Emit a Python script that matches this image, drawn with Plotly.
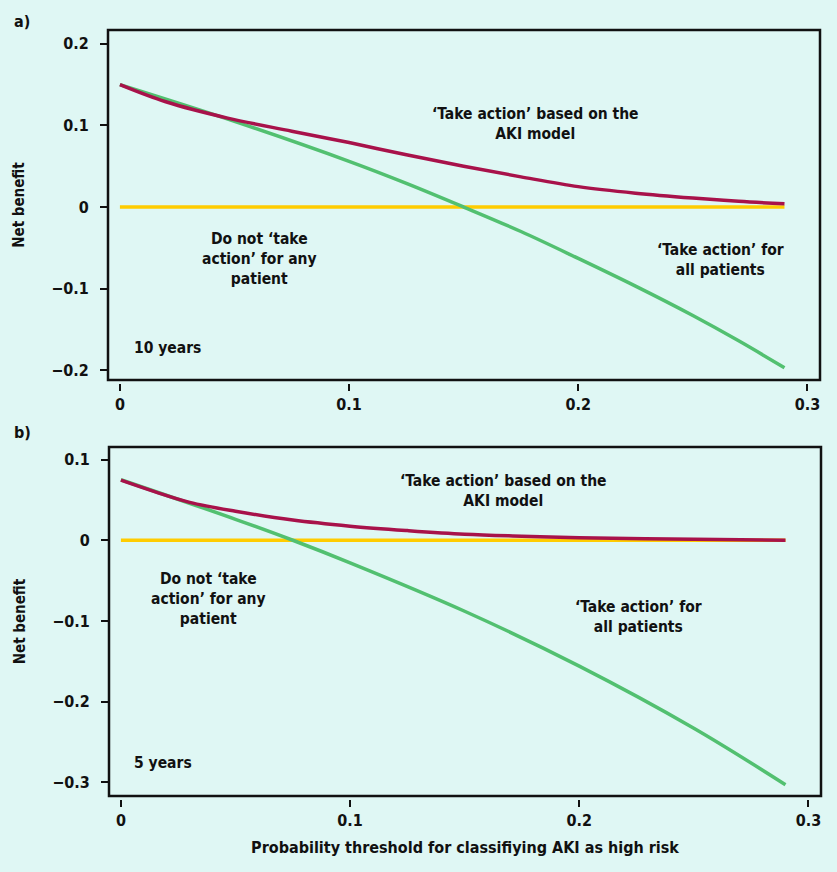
import plotly.graph_objects as go

# ---- data ----
# Panel a) 10 years
t_all_a = [0, 0.05, 0.1, 0.125, 0.15, 0.175, 0.2, 0.225, 0.25, 0.27, 0.29]
nb_all_a = [0.150, 0.105, 0.056, 0.029, 0.000, -0.030, -0.063, -0.097, -0.133, -0.164, -0.197]
t_model_a = [0, 0.02, 0.047, 0.075, 0.1, 0.125, 0.15, 0.175, 0.2, 0.225, 0.25, 0.27, 0.29]
nb_model_a = [0.150, 0.129, 0.109, 0.093, 0.079, 0.064, 0.050, 0.037, 0.025, 0.017, 0.011, 0.007, 0.004]

# Panel b) 5 years
t_all_b = [0, 0.05, 0.075, 0.1, 0.15, 0.2, 0.25, 0.29]
nb_all_b = [0.075, 0.026, 0.000, -0.028, -0.088, -0.156, -0.233, -0.303]
t_model_b = [0, 0.015, 0.03, 0.05, 0.075, 0.1, 0.125, 0.15, 0.175, 0.2, 0.25, 0.29]
nb_model_b = [0.0745, 0.060, 0.047, 0.036, 0.025, 0.0175, 0.012, 0.0075, 0.005, 0.003, 0.0012, 0.0]

t_none = [0, 0.29]
nb_none = [0, 0]

x_ticks = [0, 0.1, 0.2, 0.3]
x_ticklabels = ["0", "0.1", "0.2", "0.3"]
y_ticks_a = [-0.2, -0.1, 0, 0.1, 0.2]
y_ticklabels_a = ["\u22120.2", "\u22120.1", "0", "0.1", "0.2"]
y_ticks_b = [-0.3, -0.2, -0.1, 0, 0.1]
y_ticklabels_b = ["\u22120.3", "\u22120.2", "\u22120.1", "0", "0.1"]

RED = "#a8124a"
GREEN = "#52c070"
YELLOW = "#ffcc00"
BG = "#dff7f4"
FONT = "Liberation Sans Narrow, DejaVu Sans Condensed, Arial Narrow, sans-serif"

W, H = 837, 872

fig = go.Figure()

def add_panel(xa, ya, t_all, nb_all, t_model, nb_model):
    fig.add_trace(go.Scatter(x=t_none, y=nb_none, mode="lines", xaxis=xa, yaxis=ya,
                             line=dict(color=YELLOW, width=3.5), hoverinfo="skip", showlegend=False))
    fig.add_trace(go.Scatter(x=t_all, y=nb_all, mode="lines", xaxis=xa, yaxis=ya,
                             line=dict(color=GREEN, width=3.5, shape="spline"), hoverinfo="skip", showlegend=False))
    fig.add_trace(go.Scatter(x=t_model, y=nb_model, mode="lines", xaxis=xa, yaxis=ya,
                             line=dict(color=RED, width=3.5, shape="spline"), hoverinfo="skip", showlegend=False))

add_panel("x", "y", t_all_a, nb_all_a, t_model_a, nb_model_a)
add_panel("x2", "y2", t_all_b, nb_all_b, t_model_b, nb_model_b)

# domains from pixel boxes
def xd(x0, x1):
    return [x0 / W, x1 / W]

def yd(top, bottom):
    return [1 - bottom / H, 1 - top / H]

dom_xa = xd(108, 820)
dom_ya = yd(30, 380)
dom_xb = xd(109, 821)
dom_yb = yd(447, 796)

tickfont = dict(family=FONT, size=16, color="#111111", weight="bold")

common_x = dict(tickmode="array", tickvals=x_ticks, ticktext=x_ticklabels,
                ticks="outside", ticklen=7, tickwidth=2, tickcolor="#111",
                showgrid=False, zeroline=False, showline=False,
                tickfont=tickfont, range=[-0.0052, 0.3055], anchor="free")
common_y = dict(ticks="outside", ticklen=7, tickwidth=2, tickcolor="#111",
                showgrid=False, zeroline=False, showline=False, tickfont=tickfont,
                ticklabelstandoff=8,
                title=dict(text="Net benefit", font=dict(family=FONT, size=15, color="#111", weight="bold"), standoff=22))

fig.update_layout(
    width=W, height=H,
    margin=dict(l=0, r=0, t=0, b=0),
    paper_bgcolor=BG, plot_bgcolor=BG,
    font=dict(family=FONT, color="#111"),
    xaxis=dict(domain=dom_xa, position=dom_ya[0] - 3 / H, **common_x),
    yaxis=dict(domain=dom_ya, range=[-0.212, 0.217], tickmode="array",
               tickvals=y_ticks_a, ticktext=y_ticklabels_a, anchor="x", **common_y),
    xaxis2=dict(domain=dom_xb, position=dom_yb[0] - 3 / H,
                title=dict(text="Probability threshold for classifiying AKI as high risk",
                           font=dict(family=FONT, size=16, color="#111", weight="bold"), standoff=12),
                **common_x),
    yaxis2=dict(domain=dom_yb, range=[-0.317, 0.1156], tickmode="array",
                tickvals=y_ticks_b, ticktext=y_ticklabels_b, anchor="x2", **common_y),
)

# boxes
for xr, yr in (("x domain", "y domain"), ("x2 domain", "y2 domain")):
    fig.add_shape(type="rect", xref=xr, yref=yr, x0=0, x1=1, y0=0, y1=1,
                  line=dict(color="#111", width=2.5), fillcolor="rgba(0,0,0,0)", layer="above")

afont = dict(family=FONT, size=15.5, color="#111", weight="bold")
ann = [
    ("x", "y", 0.1814, 0.1018, "\u2018Take action\u2019 based on the<br>AKI model"),
    ("x", "y", 0.061, -0.0638, "Do not \u2018take<br>action\u2019 for any<br>patient"),
    ("x", "y", 0.2621, -0.065, "\u2018Take action\u2019 for<br>all patients"),
    ("x2", "y2", 0.1668, 0.0607, "\u2018Take action\u2019 based on the<br>AKI model"),
    ("x2", "y2", 0.0380, -0.0731, "Do not \u2018take<br>action\u2019 for any<br>patient"),
    ("x2", "y2", 0.226, -0.0954, "\u2018Take action\u2019 for<br>all patients"),
]
for xr, yr, x, y, txt in ann:
    fig.add_annotation(xref=xr, yref=yr, x=x, y=y, text=txt, showarrow=False,
                       font=afont, align="center", xanchor="center", yanchor="middle")

fig.add_annotation(xref="x", yref="y", x=0.0052, y=-0.173, text="10 years", showarrow=False,
                   font=afont, xanchor="left", yanchor="middle")
fig.add_annotation(xref="x2", yref="y2", x=0.0048, y=-0.276, text="5 years", showarrow=False,
                   font=afont, xanchor="left", yanchor="middle")

# panel labels
lfont = dict(family=FONT, size=16, color="#111", weight="bold")
fig.add_annotation(xref="paper", yref="paper", x=12 / W, y=1 - 21 / H, text="a)", showarrow=False,
                   font=lfont, xanchor="left", yanchor="middle")
fig.add_annotation(xref="paper", yref="paper", x=12 / W, y=1 - 432 / H, text="b)", showarrow=False,
                   font=lfont, xanchor="left", yanchor="middle")

fig.write_html("out.html", config={"displayModeBar": False},
               post_script="document.body.style.margin='0';")
